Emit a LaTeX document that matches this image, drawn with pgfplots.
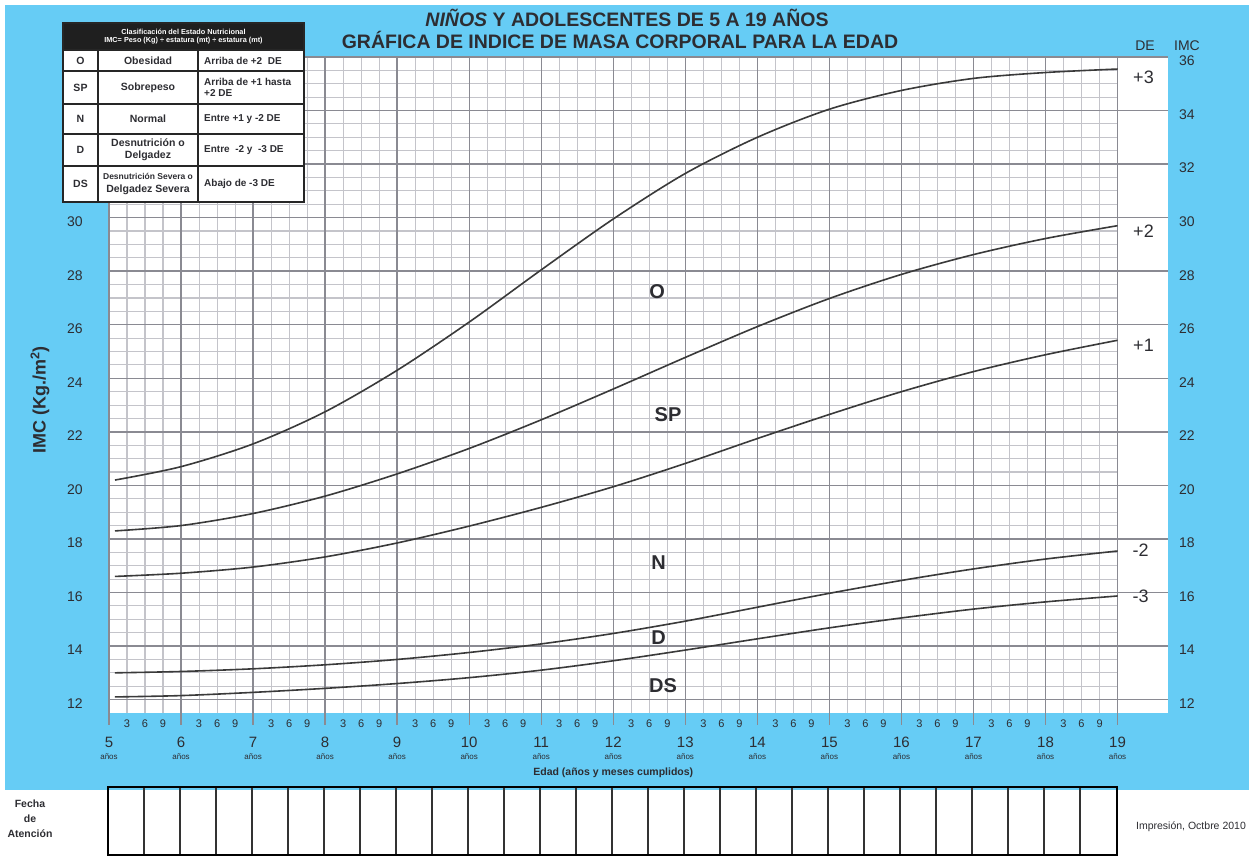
\documentclass[border=0pt]{standalone}
\usepackage{pgfplots}
\pgfplotsset{compat=1.18}
\usepackage{fontspec}
\setmainfont{Liberation Sans}
\definecolor{skyb}{RGB}{102,204,245}
\definecolor{minorg}{RGB}{196,196,202}
\definecolor{majorg}{RGB}{138,138,146}
\definecolor{curvec}{RGB}{58,58,58}
\definecolor{txt}{RGB}{45,45,50}
\newcommand{\fs}[1]{\fontsize{#1}{#1}\selectfont}
\begin{document}
\begin{tikzpicture}[x=1pt,y=1pt]
\path[use as bounding box, fill=white] (0,0) rectangle (1256,856);
\fill[skyb] (5,66) rectangle (1249,851);
% titles
\node[font=\bfseries\fs{19.5}, text=txt] at (627,838) {\textit{NIÑOS} Y ADOLESCENTES DE 5 A 19 AÑOS};
\node[font=\bfseries\fs{19.5}, text=txt] at (620,816) {GRÁFICA DE INDICE DE MASA CORPORAL PARA LA EDAD};
\node[font=\fs{14}, text=txt] at (1145,810) {DE};
\node[font=\fs{14}, text=txt] at (1187,810) {IMC};
\node[font=\bfseries\fs{18}, text=txt, rotate=90] at (40,456) {IMC (Kg./m\textsuperscript{2})};
\begin{axis}[
  at={(109pt,143pt)}, anchor=south west, scale only axis,
  width=1059pt, height=656pt,
  xmin=5, xmax=19.7, ymin=11.5, ymax=36,
  axis background/.style={fill=white},
  axis line style={draw=none}, tick style={draw=none}, major tick length=0pt,
  clip=false,
  xtick={5,...,19}, ytick={12,14,...,30},
  /pgf/number format/assume math mode=true,
  yticklabel style={font=\fs{14}, text=txt, anchor=center, xshift=-34pt, yshift=-4pt},
  xticklabel style={font=\fs{15}, text=txt, anchor=center, yshift=-29pt},
]
% minor grid
\pgfplotsinvokeforeach{5,5.25,...,19}{\draw[minorg, line width=1.1pt] (axis cs:#1,11.5) -- (axis cs:#1,36);}
\pgfplotsinvokeforeach{12,12.5,...,35.5}{\draw[minorg, line width=1.1pt] (axis cs:5,#1) -- (axis cs:19,#1);}
% major grid
\pgfplotsinvokeforeach{5,...,19}{\draw[majorg, line width=1.4pt] (axis cs:#1,36) -- ([yshift=-12pt]axis cs:#1,11.5);}
\pgfplotsinvokeforeach{12,14,...,36}{\draw[majorg, line width=1.4pt] (axis cs:5,#1) -- (axis cs:19.7,#1);}
% month labels
\pgfplotsinvokeforeach{5.25,6.25,...,18.25}{\node[font=\fs{11}, text=txt] at ([yshift=-11pt]axis cs:#1,11.5) {3};}
\pgfplotsinvokeforeach{5.5,6.5,...,18.5}{\node[font=\fs{11}, text=txt] at ([yshift=-11pt]axis cs:#1,11.5) {6};}
\pgfplotsinvokeforeach{5.75,6.75,...,18.75}{\node[font=\fs{11}, text=txt] at ([yshift=-11pt]axis cs:#1,11.5) {9};}
\pgfplotsinvokeforeach{5,...,19}{\node[font=\fs{8}, text=txt] at ([yshift=-44pt]axis cs:#1,11.5) {años};}
\node[font=\bfseries\fs{10.5}, text=txt] at ([yshift=-60pt]axis cs:12,11.5) {Edad (años y meses cumplidos)};
% right labels
\pgfplotsinvokeforeach{12,14,...,36}{\node[font=\fs{14}, text=txt] at ([xshift=19pt,yshift=-4pt]axis cs:19.7,#1) {#1};}
% curves (+3, +2, +1, -2, -3)
\addplot[curvec, line width=1.6pt, smooth] coordinates {(5.083,20.2) (6,20.7) (7,21.55) (8,22.75) (9,24.3) (10,26.1) (11,28.05) (12,29.95) (13,31.65) (14,33.0) (15,34.05) (16,34.75) (17,35.2) (18,35.42) (19,35.55)};
\addplot[curvec, line width=1.6pt, smooth] coordinates {(5.083,18.3) (6,18.5) (7,18.95) (8,19.6) (9,20.43) (10,21.38) (11,22.45) (12,23.6) (13,24.78) (14,25.93) (15,26.98) (16,27.88) (17,28.62) (18,29.22) (19,29.7)};
\addplot[curvec, line width=1.6pt, smooth] coordinates {(5.083,16.6) (6,16.72) (7,16.95) (8,17.33) (9,17.85) (10,18.48) (11,19.18) (12,19.95) (13,20.82) (14,21.75) (15,22.65) (16,23.5) (17,24.25) (18,24.88) (19,25.42)};
\addplot[curvec, line width=1.6pt, smooth] coordinates {(5.083,13.0) (6,13.05) (7,13.15) (8,13.3) (9,13.5) (10,13.76) (11,14.08) (12,14.47) (13,14.93) (14,15.45) (15,15.97) (16,16.45) (17,16.88) (18,17.25) (19,17.55)};
\addplot[curvec, line width=1.6pt, smooth] coordinates {(5.083,12.1) (6,12.15) (7,12.27) (8,12.42) (9,12.6) (10,12.82) (11,13.1) (12,13.45) (13,13.85) (14,14.27) (15,14.68) (16,15.05) (17,15.38) (18,15.65) (19,15.87)};
% DE labels
\node[font=\fs{18}, text=txt] at (axis cs:19.36,35.25) {+3};
\node[font=\fs{18}, text=txt] at (axis cs:19.36,29.5) {+2};
\node[font=\fs{18}, text=txt] at (axis cs:19.36,25.23) {+1};
\node[font=\fs{18}, text=txt] at (axis cs:19.32,17.57) {-2};
\node[font=\fs{18}, text=txt] at (axis cs:19.32,15.85) {-3};
% zone labels
\node[font=\bfseries\fs{20}, text=txt] at (axis cs:12.61,27.25) {O};
\node[font=\bfseries\fs{20}, text=txt] at (axis cs:12.76,22.65) {SP};
\node[font=\bfseries\fs{20}, text=txt] at (axis cs:12.63,17.12) {N};
\node[font=\bfseries\fs{20}, text=txt] at (axis cs:12.63,14.32) {D};
\node[font=\bfseries\fs{20}, text=txt] at (axis cs:12.69,12.52) {DS};
\end{axis}
% classification table
\fill[black!88] (63,806) rectangle (304,833);
\fill[white] (63,654) rectangle (304,806);
\foreach \yy in {806,785,752,722,690} {\draw[black!85, line width=1.5pt] (63,\yy) -- (304,\yy);}
\draw[black!85, line width=1.5pt] (98,654) -- (98,806);
\draw[black!85, line width=1.5pt] (198,654) -- (198,806);
\draw[black!85, line width=1.8pt] (63,654) rectangle (304,833);
\node[text=white, font=\bfseries\fs{7.3}, align=center, inner sep=0pt] at (183.5,819.5) {Clasificación del Estado Nutricional\\[1pt]IMC= Peso (Kg) ÷ estatura (mt) ÷ estatura (mt)};
\begin{scope}[every node/.style={text=txt, font=\bfseries\fs{10.5}, align=center, inner sep=0pt}]
\node at (80.5,795.5) {O};
\node at (80.5,768.5) {SP};
\node at (80.5,737) {N};
\node at (80.5,706) {D};
\node at (80.5,672) {DS};
\node at (148,795.5) {Obesidad};
\node at (148,768.5) {Sobrepeso};
\node at (148,737) {Normal};
\node at (148,706) {Desnutrición o\\[1pt]Delgadez};
\node at (148,672) {{\fs{8.5}Desnutrición Severa o}\\[2pt]Delgadez Severa};
\end{scope}
\begin{scope}[every node/.style={text=txt, font=\bfseries\fs{10}, align=left, anchor=west, inner sep=0pt}]
\node at (204,795.5) {Arriba de +2\ \ DE};
\node at (204,768.5) {Arriba de +1 hasta\\[1pt]+2 DE};
\node at (204,737) {Entre +1 y -2 DE};
\node at (204,706) {Entre\ \ -2 y\ \ -3 DE};
\node at (204,672) {Abajo de -3 DE};
\end{scope}
% attendance boxes
\foreach \k in {1,...,27} {\draw[black!80, line width=2pt] (108+36*\k,1) -- (108+36*\k,69);}
\draw[black, line width=2.5pt] (108,1) rectangle (1117,69);
\node[text=txt, font=\bfseries\fs{10.5}] at (30,52) {Fecha};
\node[text=txt, font=\bfseries\fs{10.5}] at (30,37) {de};
\node[text=txt, font=\bfseries\fs{10.5}] at (30,22) {Atención};
\node[text=txt, font=\fs{10.5}] at (1191,29) {Impresión, Octbre 2010};
\end{tikzpicture}
\end{document}
